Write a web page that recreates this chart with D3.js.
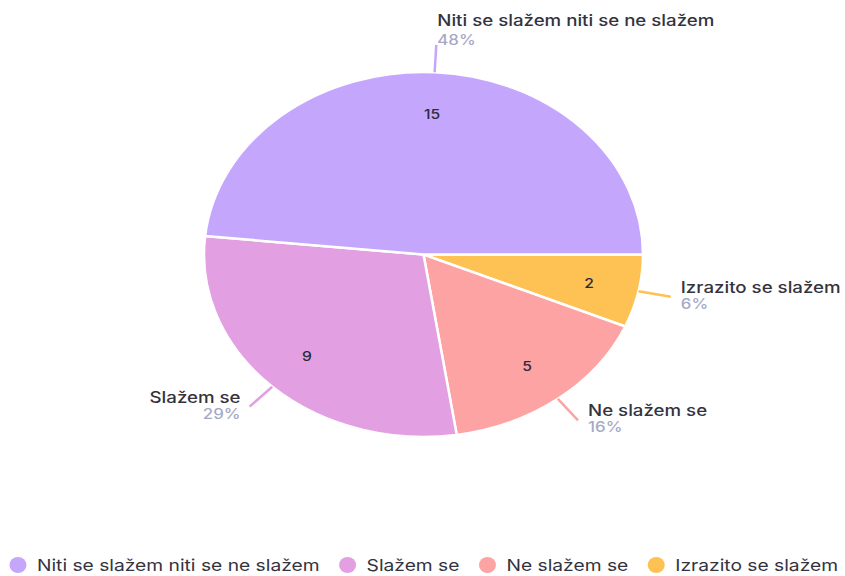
<!DOCTYPE html>
<html>
<head>
<meta charset="utf-8">
<script src="https://cdn.jsdelivr.net/npm/d3@7"></script>
<style>
  html, body { margin: 0; padding: 0; background: #ffffff; }
  svg { display: block; }
</style>
</head>
<body>
<svg id="chart" width="845" height="576"></svg>
<script>
// ---- data ----
const categories = ["Niti se slažem niti se ne slažem", "Slažem se", "Ne slažem se", "Izrazito se slažem"];
const values = [15, 9, 5, 2];
const percentLabels = ["48%", "29%", "16%", "6%"];
const colors = ["#c4a7fd", "#e2a0e3", "#fda3a3", "#fec153"];

// ---- layout ----
const W = 845, H = 576;
const cx = 423.5, cy = 254.5;
const ry = 182.5, rx = 219.5;
const sx = rx / ry;              // horizontal stretch of the pie
const textSX = 1.205;            // horizontal stretch of labels
const fontFamily = "Inter, 'Liberation Sans', Arial, sans-serif";

const svg = d3.select("#chart");

const data = categories.map((c, i) => ({ name: c, value: values[i], pct: percentLabels[i], color: colors[i] }));
// slices go clockwise starting at 3 o'clock in reverse legend order
const pie = d3.pie().sort(null).value(d => d.value)
  .startAngle(Math.PI / 2).endAngle(Math.PI / 2 + 2 * Math.PI);
const arcs = pie(data.slice().reverse());

const arc = d3.arc().innerRadius(0).outerRadius(ry);

const g = svg.append("g").attr("transform", `translate(${cx},${cy})`);
const slices = g.append("g").attr("transform", `scale(${sx},1)`);
slices.selectAll("path").data(arcs).join("path")
  .attr("d", arc)
  .attr("fill", d => d.data.color)
  .attr("stroke", "#ffffff")
  .attr("stroke-width", 2.5)
  .attr("vector-effect", "non-scaling-stroke");

function pt(a, r) {
  return [Math.sin(a) * r * sx, -Math.cos(a) * r];
}

// inside value labels
g.selectAll("text.val").data(arcs).join("text")
  .attr("class", "val")
  .attr("transform", d => {
    const m = (d.startAngle + d.endAngle) / 2;
    const p = pt(m, ry * 0.77);
    return `translate(${p[0]},${p[1] + 5}) scale(${textSX},1)`;
  })
  .attr("text-anchor", "middle")
  .attr("font-family", fontFamily)
  .attr("font-size", 13)
  .attr("font-weight", 500)
  .attr("fill", "#2b2b3a")
  .text(d => d.data.value);

// leader lines + outside labels
arcs.forEach(d => {
  const m = (d.startAngle + d.endAngle) / 2;
  const p0 = pt(m, ry * 1.0);
  const p1 = pt(m, ry * 1.15);
  g.append("line")
    .attr("x1", p0[0]).attr("y1", p0[1])
    .attr("x2", p1[0]).attr("y2", p1[1])
    .attr("stroke", d.data.color)
    .attr("stroke-width", 2.5);

  const s = Math.sin(m);
  let anchor, tx, nameY, pctY;
  if (Math.abs(s) < 0.3) {
    anchor = "start"; tx = p1[0] + 1; nameY = p1[1] - 19; pctY = p1[1] + 0.5;
  } else if (s > 0) {
    anchor = "start"; tx = p1[0] + 10; nameY = p1[1] - 4; pctY = p1[1] + 12;
  } else {
    anchor = "end"; tx = p1[0] - 9; nameY = p1[1] - 4; pctY = p1[1] + 12;
  }
  g.append("text")
    .attr("transform", `translate(${tx},${nameY}) scale(${textSX},1)`)
    .attr("text-anchor", anchor)
    .attr("font-family", fontFamily)
    .attr("font-size", 15.5)
    .attr("font-weight", 500)
    .attr("fill", "#333340")
    .text(d.data.name);
  g.append("text")
    .attr("transform", `translate(${tx},${pctY}) scale(${textSX},1)`)
    .attr("text-anchor", anchor)
    .attr("font-family", fontFamily)
    .attr("font-size", 14)
    .attr("font-weight", 500)
    .attr("fill", "#a6a9c6")
    .text(d.data.pct);
});

// ---- legend ----
const legendY = 565;
const legendSX = 1.165;
const legend = svg.append("g");
const items = legend.selectAll("g.item").data(data).join("g").attr("class", "item");
items.append("ellipse")
  .attr("rx", 8.5).attr("ry", 8)
  .attr("cx", 0).attr("cy", 0)
  .attr("fill", d => d.color);
items.append("text")
  .attr("transform", `translate(19,6) scale(${legendSX},1)`)
  .attr("font-family", fontFamily)
  .attr("font-size", 16.5)
  .attr("fill", "#333340")
  .text(d => d.name);
// position items using measured text widths, centred on the chart
const widths = [];
items.each(function() {
  widths.push(this.querySelector("text").getComputedTextLength() * legendSX);
});
const gap = 28;
let total = 0;
widths.forEach((w, i) => { total += 19 + w + (i < widths.length - 1 ? gap : 0); });
let x = cx - (total + 9) / 2 + 9;
items.each(function(d, i) {
  d3.select(this).attr("transform", `translate(${x},${legendY})`);
  x += 19 + widths[i] + gap;
});
</script>
</body>
</html>
